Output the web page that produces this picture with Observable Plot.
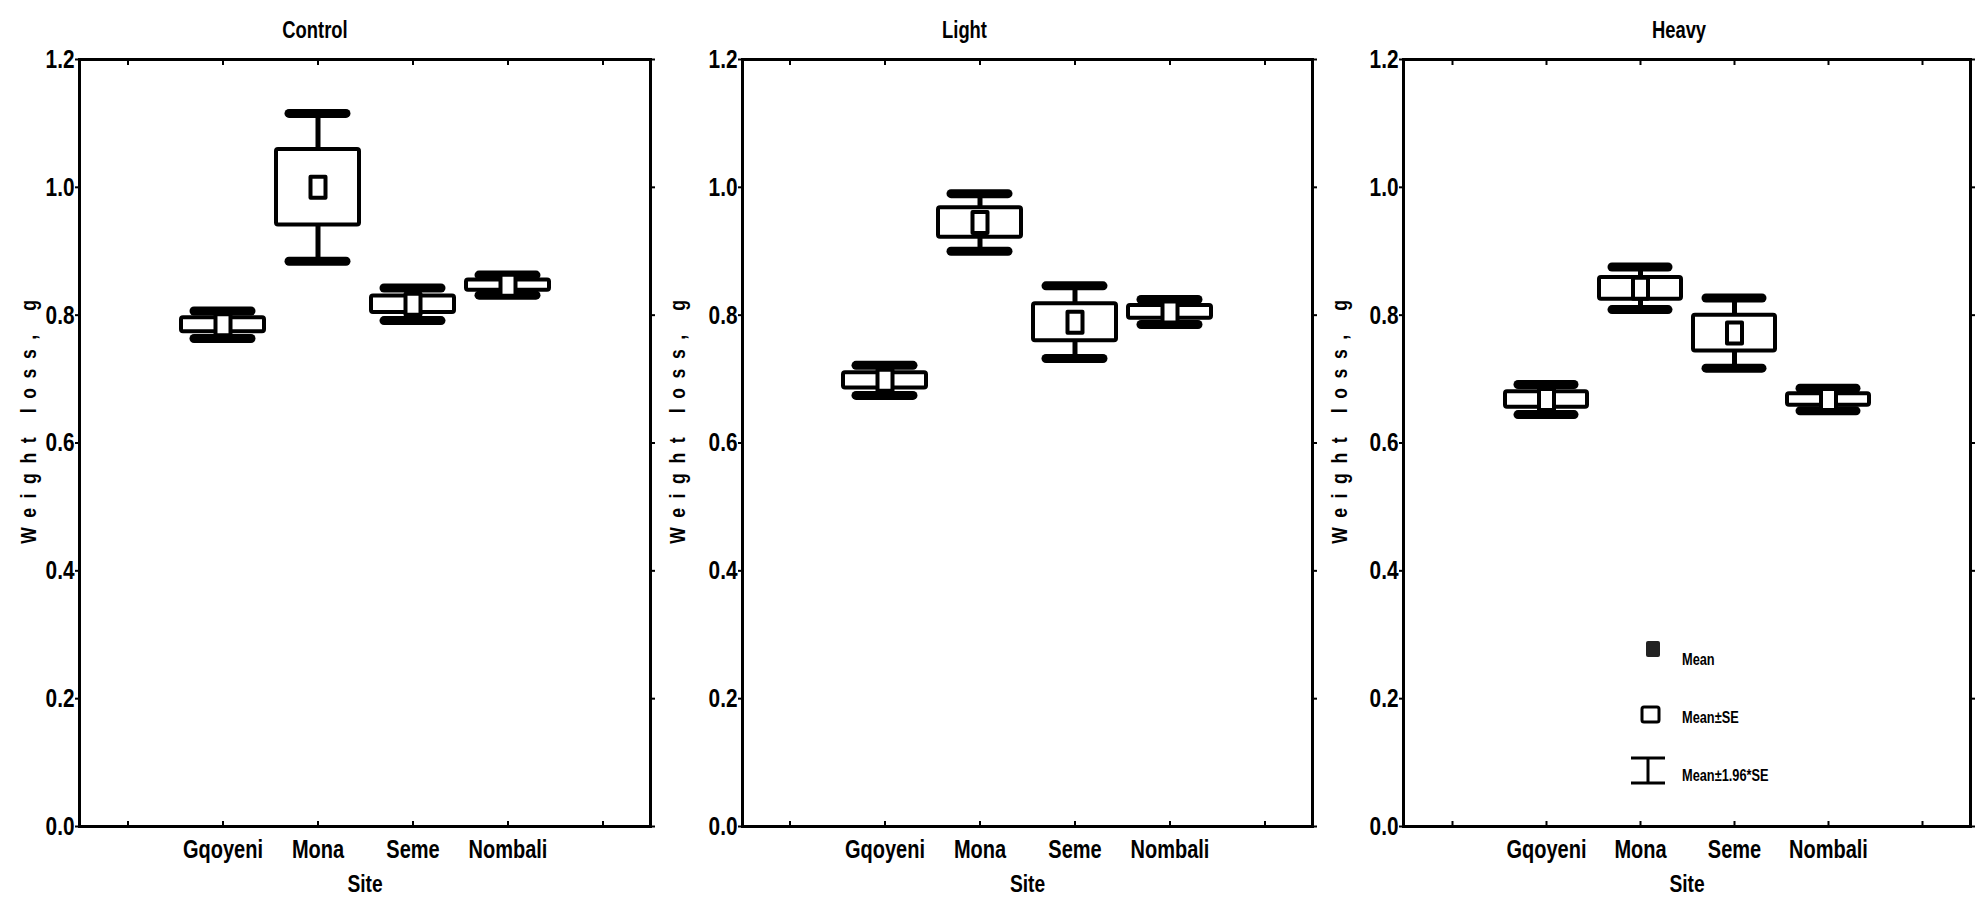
<!DOCTYPE html>
<html>
<head>
<meta charset="utf-8">
<script src="https://cdn.jsdelivr.net/npm/d3@7"></script>
<script src="https://cdn.jsdelivr.net/npm/@observablehq/plot@0.6"></script>
<style>
  html, body { margin: 0; padding: 0; background: #fff; }
  #chart { display: flex; width: 1978px; height: 910px; overflow: hidden; }
  #chart svg { display: block; overflow: visible; }
</style>
</head>
<body>
<div id="chart"></div>
<script>
// Weight loss (g) by site: mean, standard error; whiskers are mean ± 1.96·SE
const sites = ["Gqoyeni", "Mona", "Seme", "Nombali"];
const treatments = ["Control", "Light", "Heavy"];

const controlMean = [0.785, 1.000, 0.817, 0.847];
const controlSE   = [0.011, 0.059, 0.013, 0.008];

const lightMean = [0.698, 0.945, 0.789, 0.805];
const lightSE   = [0.012, 0.023, 0.029, 0.010];

const heavyMean = [0.668, 0.842, 0.772, 0.668];
const heavySE   = [0.012, 0.017, 0.028, 0.009];

const yTicks = [0, 0.2, 0.4, 0.6, 0.8, 1.0, 1.2];
const yLabel = "Weight loss, g";
const xLabel = "Site";
const legendLabels = ["Mean", "Mean\u00B1SE", "Mean\u00B11.96*SE"];

// empty slots on both sides of the four sites
const slots = ["\u2039", ...sites, "\u203A"];

const FONT = '"Liberation Sans", Arial, sans-serif';
const NARROW = 0.8; // horizontal squeeze giving a narrow bold face

const panels = [
  {title: treatments[0], means: controlMean, ses: controlSE, width: 660, marginLeft: 79, marginRight: 10, titleDx: -50, yTitleDx: -51},
  {title: treatments[1], means: lightMean,   ses: lightSE,   width: 660, marginLeft: 82, marginRight: 8,  titleDx: -63, yTitleDx: -65},
  {title: treatments[2], means: heavyMean,   ses: heavySE,   width: 658, marginLeft: 83, marginRight: 8,  titleDx: -8,  yTitleDx: -64}
];

// mean marker: upright rectangle
const meanSymbol = {
  draw(ctx) {
    ctx.moveTo(-7.5, -10.5);
    ctx.lineTo(7.5, -10.5);
    ctx.lineTo(7.5, 10.5);
    ctx.lineTo(-7.5, 10.5);
    ctx.closePath();
  }
};

const tickFormat = d => sites.includes(d) ? d : "";

// squeeze every label horizontally about its own anchor point
function narrowText(svg, s) {
  d3.select(svg).selectAll("text").each(function () {
    const x = +this.getAttribute("x") || 0;
    const y = +this.getAttribute("y") || 0;
    const t = this.getAttribute("transform") || "";
    this.setAttribute("transform", `${t} translate(${x},${y}) scale(${s},1) translate(${-x},${-y})`);
  });
}

const chart = document.getElementById("chart");

panels.forEach((p, i) => {
  const rows = sites.map((s, j) => ({site: s, mean: p.means[j], se: p.ses[j]}));
  const lo = d => d.mean - 1.96 * d.se;
  const hi = d => d.mean + 1.96 * d.se;

  const svg = Plot.plot({
    width: p.width,
    height: 910,
    marginLeft: p.marginLeft,
    marginRight: p.marginRight,
    marginTop: 59,
    marginBottom: 84,
    x: {domain: slots, padding: 0, axis: null},
    y: {domain: [0, 1.2], axis: null},
    style: {fontFamily: FONT, fontWeight: "bold", background: "white", color: "black"},
    marks: [
      // whisker stems
      Plot.ruleX(rows, {x: "site", y1: lo, y2: hi, strokeWidth: 5}),
      // whisker caps
      Plot.tickY(rows, {x: "site", y: lo, strokeWidth: 9, strokeLinecap: "round", insetLeft: 19, insetRight: 19}),
      Plot.tickY(rows, {x: "site", y: hi, strokeWidth: 9, strokeLinecap: "round", insetLeft: 19, insetRight: 19}),
      // mean ± SE box
      Plot.barY(rows, {x: "site", y1: d => d.mean - d.se, y2: d => d.mean + d.se,
        fill: "white", stroke: "black", strokeWidth: 4, strokeLinejoin: "round", insetLeft: 6, insetRight: 6, rx: 2}),
      // mean marker
      Plot.dot(rows, {x: "site", y: "mean", symbol: meanSymbol, fill: "white", stroke: "black",
        strokeWidth: 4, strokeLinejoin: "round"}),
      Plot.frame({strokeWidth: 3}),
      // category labels and inward ticks
      Plot.axisX({anchor: "bottom", tickSize: 0, tickPadding: 14, tickFormat, fontSize: 25, label: null}),
      Plot.axisX({anchor: "bottom", tickSize: -5, tickFormat: () => "", strokeWidth: 2, label: null}),
      Plot.axisX({anchor: "top", tickSize: -5, tickFormat: () => "", strokeWidth: 2, label: null}),
      // value labels and ticks
      Plot.axisY({anchor: "left", ticks: yTicks, tickSize: 4, tickPadding: 1, tickFormat: d3.format(".1f"),
        fontSize: 26, strokeWidth: 2, label: null}),
      Plot.axisY({anchor: "right", ticks: yTicks, tickSize: 4, tickFormat: () => "", strokeWidth: 2, label: null}),
      // panel title
      Plot.text([p.title], {frameAnchor: "top", dy: -38, dx: p.titleDx, fontSize: 23}),
      // axis titles
      Plot.text([xLabel], {frameAnchor: "bottom", dy: 65, fontSize: 24}),
      Plot.text([yLabel], {frameAnchor: "left", textAnchor: "middle", dx: p.yTitleDx, dy: -26, rotate: -90,
        fontSize: 22})
    ]
  });

  // spaced-out lettering of the vertical axis title
  d3.select(svg).selectAll("text")
    .filter(function () { return this.textContent === yLabel; })
    .style("letter-spacing", "12px");

  // legend drawn inside the last panel
  if (i === panels.length - 1) {
    const g = d3.select(svg).append("g")
      .attr("font-family", FONT).attr("font-weight", "bold").attr("font-size", 16)
      .attr("text-anchor", "start");
    g.append("rect").attr("x", 326).attr("y", 641).attr("width", 14).attr("height", 16)
      .attr("rx", 2).attr("fill", "#222");
    g.append("rect").attr("x", 322).attr("y", 707).attr("width", 17).attr("height", 15)
      .attr("rx", 2).attr("fill", "white").attr("stroke", "black").attr("stroke-width", 3);
    g.append("path").attr("d", "M311,758H345M328,758V783M311,783H345")
      .attr("fill", "none").attr("stroke", "black").attr("stroke-width", 3);
    const ly = [659, 717, 775];
    legendLabels.forEach((t, k) => {
      g.append("text").attr("x", 362).attr("y", ly[k]).attr("dy", "0.35em").text(t);
    });
  }

  narrowText(svg, NARROW);
  chart.appendChild(svg);
});
</script>
</body>
</html>
